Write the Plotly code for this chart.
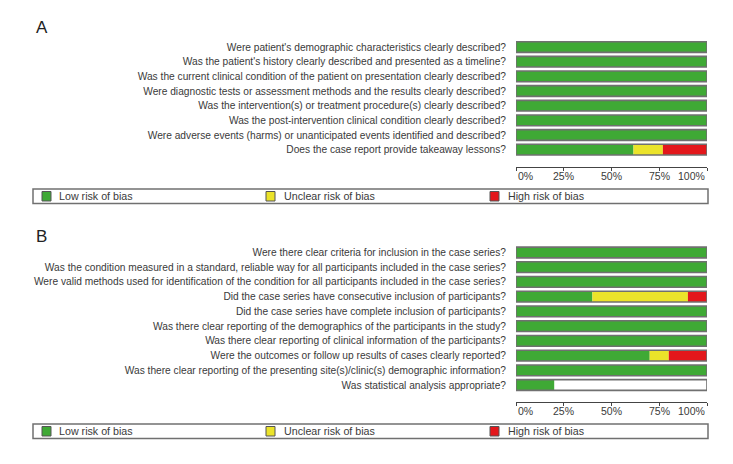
import plotly.graph_objects as go

# ---------------- data ----------------
questions_A = [
    "Were patient's demographic characteristics clearly described?",
    "Was the patient's history clearly described and presented as a timeline?",
    "Was the current clinical condition of the patient on presentation clearly described?",
    "Were diagnostic tests or assessment methods and the results clearly described?",
    "Was the intervention(s) or treatment procedure(s) clearly described?",
    "Was the post-intervention clinical condition clearly described?",
    "Were adverse events (harms) or unanticipated events identified and described?",
    "Does the case report provide takeaway lessons?",
]
low_A = [100, 100, 100, 100, 100, 100, 100, 61.5]
unclear_A = [0, 0, 0, 0, 0, 0, 0, 15.4]
high_A = [0, 0, 0, 0, 0, 0, 0, 23.1]

questions_B = [
    "Were there clear criteria for inclusion in the case series?",
    "Was the condition measured in a standard, reliable way for all participants included in the case series?",
    "Were valid methods used for identification of the condition for all participants included in the case series?",
    "Did the case series have consecutive inclusion of participants?",
    "Did the case series have complete inclusion of participants?",
    "Was there clear reporting of the demographics of the participants in the study?",
    "Was there clear reporting of clinical information of the participants?",
    "Were the outcomes or follow up results of cases clearly reported?",
    "Was there clear reporting of the presenting site(s)/clinic(s) demographic information?",
    "Was statistical analysis appropriate?",
]
low_B = [100, 100, 100, 40, 100, 100, 100, 70, 100, 20]
unclear_B = [0, 0, 0, 50, 0, 0, 0, 10, 0, 0]
high_B = [0, 0, 0, 10, 0, 0, 0, 20, 0, 0]

scale_max = 100
tick_vals = [0, 25, 50, 75, 100]
tick_text = ["0%", "25%", "50%", "75%", "100%"]
legend_labels = ["Low risk of bias", "Unclear risk of bias", "High risk of bias"]
panel_labels = ["A", "B"]

# ---------------- style ----------------
# page body has an 8px margin; the figure is sized to fit inside it
OFF = 8
W, H = 733 - 2 * OFF, 464 - 2 * OFF
GREEN, YELLOW, RED = "#3fa935", "#ebe32a", "#e3171b"
FRAME = "#707070"
AXC = "#444444"
TXT = "#3a3a3a"
FONT = "Liberation Sans, Arial, sans-serif"
FS = 10.2

def fx(p):
    return (p - OFF) / W

def fy(p):
    return 1 - (p - OFF) / H

fig = go.Figure()

panels = [
    (questions_A, low_A, unclear_A, high_A, "x", "y"),
    (questions_B, low_B, unclear_B, high_B, "x2", "y2"),
]
for q, lo, un, hi, xa, ya in panels:
    base_un = lo
    base_hi = [a + b for a, b in zip(lo, un)]
    for vals, base, col in [(lo, [0] * len(q), GREEN), (un, base_un, YELLOW), (hi, base_hi, RED)]:
        fig.add_trace(go.Bar(
            y=q, x=vals, base=base, orientation="h", xaxis=xa, yaxis=ya,
            marker=dict(color=col, line=dict(width=0)), hoverinfo="skip", showlegend=False))
    fig.add_trace(go.Bar(
        y=q, x=[scale_max] * len(q), base=[0] * len(q), orientation="h", xaxis=xa, yaxis=ya,
        marker=dict(color="rgba(0,0,0,0)", line=dict(color=FRAME, width=1.6)),
        hoverinfo="skip", showlegend=False))

xdom = [fx(516), fx(707)]
xcommon = dict(domain=xdom, range=[0, scale_max], tickvals=tick_vals,
               ticks="outside", ticklen=3, tickcolor=AXC, tickwidth=1, showticklabels=False,
               showline=True, linecolor=AXC, linewidth=1.2, showgrid=False, zeroline=False,
               anchor="free", fixedrange=True, automargin=False)
xinside = dict(domain=xdom, range=[0, scale_max], tickvals=tick_vals, ticks="inside", ticklen=3,
               tickcolor=AXC, tickwidth=1, showticklabels=False, showline=False,
               showgrid=False, zeroline=False, anchor="free", automargin=False)
ycommon = dict(type="category", showgrid=False, zeroline=False, showline=False,
               ticks="", ticklabelstandoff=9, automargin=False,
               tickfont=dict(family=FONT, size=FS, color=TXT), fixedrange=True)

axA, axB = fy(167), fy(401.5)
fig.update_layout(
    width=W, height=H, margin=dict(l=0, r=0, t=0, b=0, autoexpand=False),
    paper_bgcolor="white", plot_bgcolor="rgba(0,0,0,0)",
    barmode="overlay", bargap=0.27, showlegend=False,
    xaxis=dict(**xcommon, position=axA),
    xaxis2=dict(**xcommon, position=axB),
    xaxis3=dict(**xinside, overlaying="x", position=axA),
    xaxis4=dict(**xinside, overlaying="x2", position=axB),
    yaxis=dict(**ycommon, domain=[fy(157), fy(39.7)], range=[len(questions_A) - 0.5, -0.5], anchor="x"),
    yaxis2=dict(**ycommon, domain=[fy(392.4), fy(245.1)], range=[len(questions_B) - 0.5, -0.5], anchor="x2"),
)

shapes, annots = [], []
# tick labels (end labels pulled inward, as in the original)
for xref, ly in [("x", 175.5), ("x2", 410.5)]:
    for i, (tv, tt) in enumerate(zip(tick_vals, tick_text)):
        anchor = "left" if i == 0 else ("right" if i == len(tick_vals) - 1 else "center")
        annots.append(dict(text=tt, x=tv, y=fy(ly), xref=xref, yref="paper",
                           xanchor=anchor, yanchor="middle", showarrow=False,
                           font=dict(family=FONT, size=10.5, color=TXT)))

for label, top, ly in [(panel_labels[0], 189, 28), (panel_labels[1], 424, 236)]:
    annots.append(dict(text=label, x=fx(34), y=fy(ly), xref="paper", yref="paper",
                       xanchor="left", yanchor="middle", showarrow=False,
                       font=dict(family="Liberation Sans, Arial, sans-serif", size=17, color="#222")))
    shapes.append(dict(type="rect", xref="paper", yref="paper", x0=fx(33), x1=fx(708),
                       y0=fy(top), y1=fy(top + 14.5), line=dict(color=FRAME, width=1.5),
                       fillcolor="white", layer="below"))
    for (sx, tx), col, txt in zip([(42, 57), (266, 282), (490, 506)], [GREEN, YELLOW, RED], legend_labels):
        shapes.append(dict(type="rect", xref="paper", yref="paper", x0=fx(sx), x1=fx(sx + 9),
                           y0=fy(top + 2.5), y1=fy(top + 12), fillcolor=col,
                           line=dict(color="#555", width=1)))
        annots.append(dict(text=txt, x=fx(tx), y=fy(top + 7.3), xref="paper", yref="paper",
                           xanchor="left", yanchor="middle", showarrow=False,
                           font=dict(family=FONT, size=10.7, color=TXT)))
fig.update_layout(shapes=shapes, annotations=annots)

fig.write_html("out.html")
